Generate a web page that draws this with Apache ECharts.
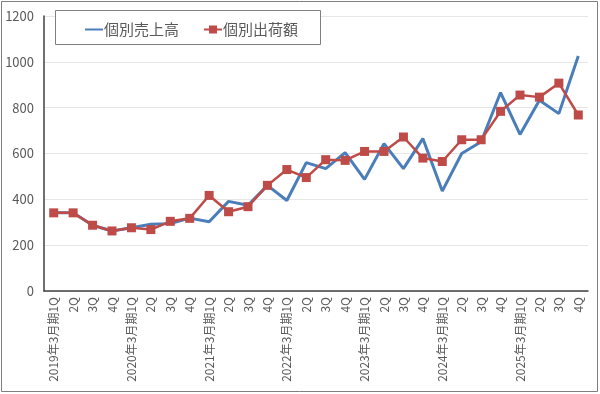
<!DOCTYPE html>
<html><head><meta charset="utf-8">
<script src="https://cdn.jsdelivr.net/npm/echarts@6/dist/echarts.min.js"></script>
<style>html,body{margin:0;padding:0;background:#fff}#c{width:600px;height:394px}</style>
</head><body><div id="c"></div>
<script>
const categories = [
 '2019年3月期1Q','2Q','3Q','4Q',
 '2020年3月期1Q','2Q','3Q','4Q',
 '2021年3月期1Q','2Q','3Q','4Q',
 '2022年3月期1Q','2Q','3Q','4Q',
 '2023年3月期1Q','2Q','3Q','4Q',
 '2024年3月期1Q','2Q','3Q','4Q',
 '2025年3月期1Q','2Q','3Q','4Q'
];
const sales = [341,341,287,262, 276,291,294,318, 302,391,374,461, 395,560,534,604, 487,643,534,665, 436,600,651,866, 683,832,774,1025];
const shipments = [341,341,287,262, 276,268,304,317, 417,346,368,461, 530,495,573,570, 609,609,672,580, 565,660,660,784, 855,846,907,768];
const yTicks = [0,200,400,600,800,1000,1200];

const chart = echarts.init(document.getElementById('c'));
const font = '"Noto Sans CJK JP", "Noto Sans", sans-serif';
chart.setOption({
  animation: false,
  textStyle: {fontFamily: font},
  graphic: [
    {type:'rect', shape:{x:1.5,y:1.5,width:596,height:390}, style:{fill:'none', stroke:'#7f7f7f', lineWidth:1}, z:-1},
    {type:'rect', shape:{x:55.5,y:10.5,width:265,height:34}, style:{fill:'#fff', stroke:'#7f7f7f', lineWidth:1}, z:10}
  ],
  legend: {
    left: 80, top: 17, itemGap: 24, itemWidth: 18, itemHeight: 10, z: 20,
    selectedMode: false,
    textStyle: {fontSize: 15, color: '#595959', fontFamily: font, padding:[0,0,0,-4]},
    data: [
      {name:'個別売上高', icon:'path://M0,4 L18,4 L18,6 L0,6 Z'},
      {name:'個別出荷額'}
    ]
  },
  grid: {left: 44, right: 12, top: 16, bottom: 103, containLabel: false},
  xAxis: {
    type: 'category', data: categories, boundaryGap: true,
    axisLine: {lineStyle: {color: '#404040', width: 1.5}},
    axisTick: {show: false},
    axisLabel: {rotate: 90, interval: 0, fontSize: 12, color: '#595959', margin: 6, fontFamily: font}
  },
  yAxis: {
    type: 'value', min: 0, max: 1200, interval: 200,
    axisLine: {show: true, lineStyle: {color: '#404040', width: 1.5}},
    axisTick: {show: false},
    axisLabel: {fontSize: 13, color: '#595959', margin: 10, fontFamily: font,
      formatter: v => yTicks.includes(v) ? String(v) : ''},
    splitLine: {lineStyle: {color: '#e6e6e6', width: 1}}
  },
  series: [
    {name:'個別売上高', type:'line', data: sales, symbol:'none',
     lineStyle:{color:'#4a7ebb', width:3}, itemStyle:{color:'#4a7ebb'}, z:2},
    {name:'個別出荷額', type:'line', data: shipments, symbol:'rect', symbolSize:9,
     lineStyle:{color:'#be4b48', width:2.5}, itemStyle:{color:'#be4b48'}, z:3}
  ]
});
</script></body></html>
